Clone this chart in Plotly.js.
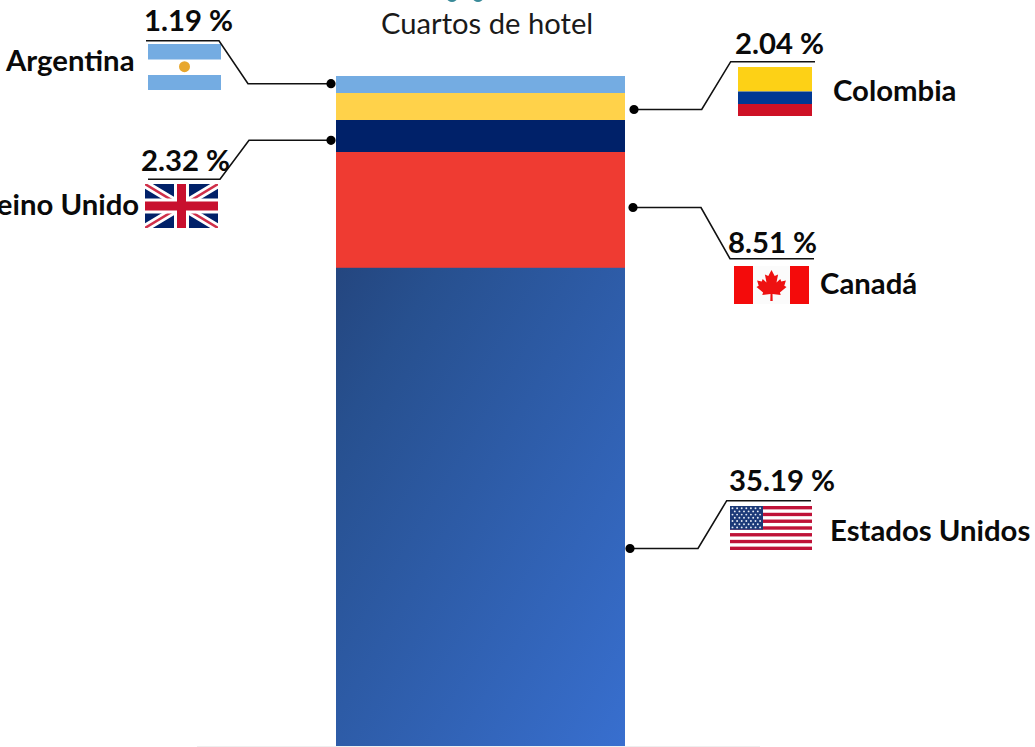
<!DOCTYPE html>
<html>
<head>
<meta charset="utf-8">
<script src="https://cdn.plot.ly/plotly-3.0.1.min.js"></script>
<style>html,body{margin:0;padding:0;background:#fff;overflow:hidden}#chart{width:1035px;height:747px}</style>
</head>
<body>
<div id="chart"></div>
<script>
// ---- data ----
const categories = ["Estados Unidos", "Canadá", "Reino Unido", "Colombia", "Argentina"];
const values = [35.19, 8.51, 2.32, 2.04, 1.19];
const valueLabels = ["35.19 %", "8.51 %", "2.32 %", "2.04 %", "1.19 %"];
const barColors = ["#2f5cab", "#ef3b32", "#002169", "#ffd24a", "#74ace2"];
const barTitle = "Cuartos de hotel";

// ---- page geometry (px) ----
const W = 1035, H = 747, pxPerUnit = 13.596, baseY = 746;
const barLeft = 336, barWidth = 289;
const py = v => 1 - v / H;

// per-category label placement
const placement = {
  "Estados Unidos": {v:[782,479.5], n:[829,"left",529.5], line:[[630,548.5],[698,548.5],[726.7,500.7],[811,500.7]]},
  "Canadá":         {v:[772.5,241.5], n:[819,"left",282.5], line:[[633,207.5],[701,207.5],[730,258.7],[814,258.7]]},
  "Reino Unido":    {v:[185.5,159.5], n:[139.5,"right",203.5], line:[[331,140.3],[249,140.3],[220,179.3],[148,179.3]]},
  "Colombia":       {v:[779.5,42.5],  n:[832,"left",89],  line:[[634,109.5],[701.7,109.5],[730.7,61.7],[815,61.7]]},
  "Argentina":      {v:[188,19.5],  n:[135.5,"right",59.5], line:[[331,83.7],[248,83.7],[219,40.7],[146,40.7]]}
};

// ---- flags as inline SVG ----
const svgUri = (w,h,body) => "data:image/svg+xml;utf8," + encodeURIComponent(
  `<svg xmlns="http://www.w3.org/2000/svg" width="${w}" height="${h}" viewBox="0 0 ${w} ${h}">${body}</svg>`);

const flagArgentina = svgUri(73,46,
  `<rect width="73" height="46" fill="#fff"/><rect width="73" height="15.5" fill="#74ace2"/><rect y="31" width="73" height="15" fill="#74ace2"/><circle cx="36.5" cy="22.7" r="5.5" fill="#e8a72d"/>`);
const flagColombia = svgUri(74,49,
  `<rect width="74" height="24.5" fill="#fdd116"/><rect y="24.5" width="74" height="12.5" fill="#003893"/><rect y="37" width="74" height="12" fill="#ce1126"/>`);
const flagUK = svgUri(73,44,
  `<rect width="73" height="44" fill="#012169"/>
   <path d="M0 0L73 44M73 0L0 44" stroke="#fff" stroke-width="8"/>
   <path d="M0 0L73 44M73 0L0 44" stroke="#d0304a" stroke-width="2.5"/>
   <path d="M36.5 0V44M0 22H73" stroke="#fff" stroke-width="15"/>
   <path d="M36.5 0V44M0 22H73" stroke="#c8102e" stroke-width="9"/>`);
const leaf = "M0 -15 L3.2 -9 L6.6 -10.6 L5 -2.5 L8.8 -6 L9.8 -3.6 L14.4 -4.4 L12.8 0.8 L15 2 L8.4 7.4 L9.2 10 L1 9 L1.2 16 L-1.2 16 L-1 9 L-9.2 10 L-8.4 7.4 L-15 2 L-12.8 0.8 L-14.4 -4.4 L-9.8 -3.6 L-8.8 -6 L-5 -2.5 L-6.6 -10.6 L-3.2 -9 Z";
const flagCanada = svgUri(75,38,
  `<rect width="75" height="38" fill="#fbfbfb"/><rect width="19" height="38" fill="#f40b0b"/><rect x="56" width="19" height="38" fill="#f40b0b"/><path transform="translate(37.5 19)" d="${leaf}" fill="#ee1111"/>`);
let usBody = `<rect width="82" height="44" fill="#fff"/>`;
for (let i = 0; i < 7; i++) usBody += `<rect y="${(i*2*44/13).toFixed(2)}" width="82" height="${(44/13).toFixed(2)}" fill="#bf1238"/>`;
usBody += `<rect width="33" height="23.7" fill="#1c3a78"/>`;
for (let r = 0; r < 7; r++) for (let c = 0; c < (r%2?6:7); c++)
  usBody += `<circle cx="${(2.5 + c*4.6 + (r%2?2.3:0)).toFixed(1)}" cy="${(2.2 + r*3.2).toFixed(1)}" r="0.95" fill="#e8ecf5"/>`;
const flagUS = svgUri(82,44,usBody);

const gradient = svgUri(289,478,
  `<defs><linearGradient id="g" x1="0" y1="0" x2="1" y2="1"><stop offset="0" stop-color="#24467f"/><stop offset="0.18" stop-color="#27508f"/><stop offset="1" stop-color="#386fcf"/></linearGradient></defs><rect width="289" height="478" fill="url(#g)"/>`);

const flagImg = (src,x,y,w,h) => ({source:src,xref:"x",yref:"paper",x:x,y:py(y),sizex:w,sizey:h/H,sizing:"stretch",xanchor:"left",yanchor:"top",layer:"above"});

// ---- traces ----
const traces = categories.map((c,i) => ({
  type:"bar", name:c, x:[barLeft + barWidth/2], y:[values[i]], width:[barWidth],
  marker:{color:barColors[i], line:{width:0}}, hoverinfo:"name+y", showlegend:false
}));

// ---- annotations & shapes ----
const FONT = "Lato, 'Open Sans', sans-serif";
const annotations = [];
const shapes = [];
categories.forEach((c,i) => {
  const p = placement[c];
  annotations.push({xref:"x",yref:"paper",x:p.v[0],y:py(p.v[1]),text:"<b>"+valueLabels[i]+"</b>",showarrow:false,
    xanchor:"center",yanchor:"middle",borderpad:0,font:{family:FONT,size:29.3,color:"#0a0a0a"}});
  annotations.push({xref:"x",yref:"paper",x:p.n[0],y:py(p.n[2]),text:"<b>"+c+"</b>",showarrow:false,
    xanchor:p.n[1],yanchor:"middle",borderpad:0,font:{family:FONT,size:29.3,color:"#0a0a0a"}});
  const d = p.line.map((q,j)=>(j?"L":"M")+q[0]+" "+py(q[1])).join(" ");
  shapes.push({type:"path",xref:"x",yref:"paper",path:d,line:{color:"#111",width:1.6}});
  const s = p.line[0];
  shapes.push({type:"circle",xref:"x",yref:"paper",x0:s[0]-4.6,x1:s[0]+4.6,y0:py(s[1]+4.6),y1:py(s[1]-4.6),fillcolor:"#000",line:{width:0}});
});
annotations.push({xref:"x",yref:"paper",x:486.5,y:py(22.5),text:barTitle,showarrow:false,xanchor:"center",yanchor:"middle",
  font:{family:FONT,size:29.2,color:"#1a1a1a"}});

// baseline and clipped teal arcs above the title
shapes.push({type:"line",xref:"x",yref:"paper",x0:197,x1:760,y0:py(746.5),y1:py(746.5),line:{color:"#eeeeee",width:1},layer:"below"});
shapes.push({type:"circle",xref:"x",yref:"paper",x0:447,x1:457,y0:py(2),y1:py(-6),fillcolor:"#3a8a99",line:{width:0}});
shapes.push({type:"circle",xref:"x",yref:"paper",x0:473,x1:483,y0:py(2),y1:py(-6),fillcolor:"#3a8a99",line:{width:0}});

const images = [
  {source:gradient,xref:"x",yref:"y",x:barLeft,y:values[0],sizex:barWidth,sizey:values[0],sizing:"stretch",xanchor:"left",yanchor:"top",layer:"above"},
  flagImg(flagArgentina,148,44,73,46),
  flagImg(flagUK,145,184,73,44),
  flagImg(flagColombia,738,67,74,49),
  flagImg(flagCanada,734,266,75,38),
  flagImg(flagUS,730,506,82,44)
];

const layout = {
  width:W, height:H, margin:{l:0,r:0,t:0,b:0,pad:0},
  paper_bgcolor:"#fff", plot_bgcolor:"#fff",
  barmode:"stack", showlegend:false, bargap:0,
  xaxis:{range:[0,W],visible:false,fixedrange:true},
  yaxis:{range:[-(H-baseY)/pxPerUnit, baseY/pxPerUnit],visible:false,fixedrange:true},
  annotations, shapes, images
};
Plotly.newPlot("chart",traces,layout,{displayModeBar:false,staticPlot:true});
</script>
</body>
</html>
